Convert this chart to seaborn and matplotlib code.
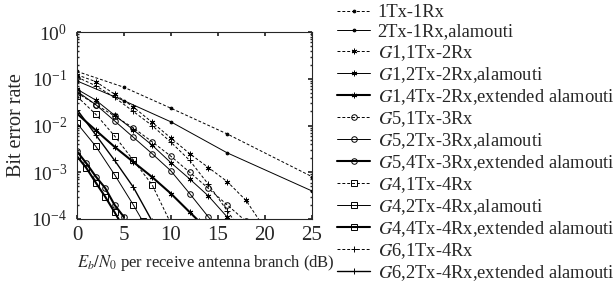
import numpy as np
import pandas as pd
import matplotlib
matplotlib.use("Agg")
import matplotlib.pyplot as plt
import seaborn as sns

# ── Config ────────────────────────────────────────────────────────
sns.set_theme(style="ticks")
plt.rcParams.update({
    "font.family": ["Liberation Serif", "DejaVu Serif"],
    "mathtext.fontset": "stix",
    "xtick.direction": "in",
    "ytick.direction": "in",
    "xtick.top": True,
    "ytick.right": True,
    "axes.linewidth": 0.8,
})

# ── Dados (BER vs Eb/N0 em dB) ───────────────────────────────────
LABELS = [
    "1Tx-1Rx",
    "2Tx-1Rx,alamouti",
    "$G$1,1Tx-2Rx",
    "$G$1,2Tx-2Rx,alamouti",
    "$G$1,4Tx-2Rx,extended alamouti",
    "$G$5,1Tx-3Rx",
    "$G$5,2Tx-3Rx,alamouti",
    "$G$5,4Tx-3Rx,extended alamouti",
    "$G$4,1Tx-4Rx",
    "$G$4,2Tx-4Rx,alamouti",
    "$G$4,4Tx-4Rx,extended alamouti",
    "$G$6,1Tx-4Rx",
    "$G$6,2Tx-4Rx,extended alamouti",
]

snr_1x1 = [0, 5, 10, 16, 25]
ber_1x1 = [0.144, 0.066, 0.0235, 0.0066, 8.1e-4]

snr_2x1 = [0, 5, 10, 16, 25]
ber_2x1 = [0.090, 0.034, 0.012, 0.0026, 4.0e-4]

snr_g1_1x2 = [0, 2, 4, 6, 8, 10, 12, 14, 16, 18, 20]
ber_g1_1x2 = [0.122, 0.087, 0.047, 0.025, 0.0117, 0.0054, 0.0025, 0.00126, 6.3e-4, 2.5e-4, 6.3e-5]

snr_g1_2x2 = [0, 2, 4, 6, 8, 10, 12, 14, 16]
ber_g1_2x2 = [0.060, 0.035, 0.0166, 0.0081, 0.0038, 0.0016, 7.2e-4, 3.1e-4, 1.1e-4]

snr_g1_4x2 = [0, 2, 4, 6, 8, 10, 12, 13]
ber_g1_4x2 = [0.018, 0.0079, 0.0035, 0.00166, 7.9e-4, 3.5e-4, 1.4e-4, 8.9e-5]

snr_g5_1x3 = [0, 2, 4, 6, 8, 10, 12, 14, 16, 18]
ber_g5_1x3 = [0.050, 0.028, 0.016, 0.0089, 0.0045, 0.0022, 0.0010, 4.5e-4, 2.0e-4, 8.9e-5]

snr_g5_2x3 = [0, 2, 4, 6, 8, 10, 12, 14, 15]
ber_g5_2x3 = [0.054, 0.028, 0.0126, 0.0056, 0.0025, 0.00107, 3.5e-4, 1.1e-4, 6.3e-5]

snr_g5_4x3 = [0, 1, 2, 3, 4, 5]
ber_g5_4x3 = [0.0028, 0.00155, 8.1e-4, 4.6e-4, 2.0e-4, 1.1e-4]

snr_g4_1x4 = [0, 2, 4, 6, 8, 10]
ber_g4_1x4 = [0.042, 0.0174, 0.006, 0.0018, 5.4e-4, 8e-5]

snr_g4_2x4 = [0, 2, 4, 6, 7]
ber_g4_2x4 = [0.0112, 0.0036, 8.9e-4, 2.0e-4, 9e-5]

snr_g4_4x4 = [0, 1, 2, 3, 4, 5]
ber_g4_4x4 = [0.0022, 0.00123, 6.0e-4, 3.0e-4, 1.4e-4, 6.3e-5]

snr_g6_1x4 = [0, 2, 4, 6, 8, 10, 12, 14, 16, 18]
ber_g6_1x4 = [0.109, 0.071, 0.040, 0.020, 0.010, 0.0044, 0.0018, 5.5e-4, 1.5e-4, 4e-5]

snr_g6_2x4 = [0, 2, 4, 6, 8]
ber_g6_2x4 = [0.022, 0.0063, 0.0018, 4.8e-4, 9e-5]

SNR = [snr_1x1, snr_2x1, snr_g1_1x2, snr_g1_2x2, snr_g1_4x2, snr_g5_1x3, snr_g5_2x3,
       snr_g5_4x3, snr_g4_1x4, snr_g4_2x4, snr_g4_4x4, snr_g6_1x4, snr_g6_2x4]
BER = [ber_1x1, ber_2x1, ber_g1_1x2, ber_g1_2x2, ber_g1_4x2, ber_g5_1x3, ber_g5_2x3,
       ber_g5_4x3, ber_g4_1x4, ber_g4_2x4, ber_g4_4x4, ber_g6_1x4, ber_g6_2x4]

# estilo: (linestyle, marker, linewidth)
DASH = (0, (3, 2))
STAR = (6, 2, 0)
STYLES = [
    (DASH, ".", 0.7), ("-", ".", 0.7),
    (DASH, STAR, 0.7), ("-", STAR, 0.7), ("-", STAR, 1.5),
    (DASH, "o", 0.7), ("-", "o", 0.7), ("-", "o", 1.5),
    (DASH, "s", 0.7), ("-", "s", 0.7), ("-", "s", 1.5),
    (DASH, "+", 0.7), ("-", "+", 1.0),
]

# ── Gráfico ───────────────────────────────────────────────────────
fig = plt.figure(figsize=(6.16, 2.84), dpi=100)
ax = fig.add_axes([0.125, 0.229, 0.381, 0.658])

for label, x, y, (ls, mk, lw) in zip(LABELS, SNR, BER, STYLES):
    d = pd.DataFrame({"snr": x, "ber": y})
    sns.lineplot(data=d, x="snr", y="ber", ax=ax, color="black",
                 linestyle=ls, linewidth=lw, marker=mk, markersize=4,
                 markerfacecolor="none" if mk in ("o", "s") else "black",
                 markeredgecolor="black", markeredgewidth=0.7, label=label)

ax.set_yscale("log")
ax.set_xlim(0, 25)
ax.set_ylim(1e-4, 1)
ax.set_xticks([0, 5, 10, 15, 20, 25])
ax.set_yticks([1e-4, 1e-3, 1e-2, 1e-1, 1])
ax.tick_params(axis="x", labelsize=15, length=3, pad=5)
ax.tick_params(axis="y", labelsize=14, length=3, pad=7)
ax.tick_params(which="minor", length=1.5)
ax.set_xlabel("$E_b/N_0$ per receive antenna branch (dB)", fontsize=12,
              labelpad=6, loc="left")
ax.set_ylabel("Bit error rate", fontsize=14.5, labelpad=4)

handles, labels = ax.get_legend_handles_labels()
ax.get_legend().remove()
fig.legend(handles, labels, loc="upper left", bbox_to_anchor=(0.547, 0.985),
           frameon=False, fontsize=13.3, labelspacing=0.12, handlelength=1.8,
           handletextpad=0.4, borderaxespad=0, borderpad=0)

fig.savefig("out.png", dpi=100)
